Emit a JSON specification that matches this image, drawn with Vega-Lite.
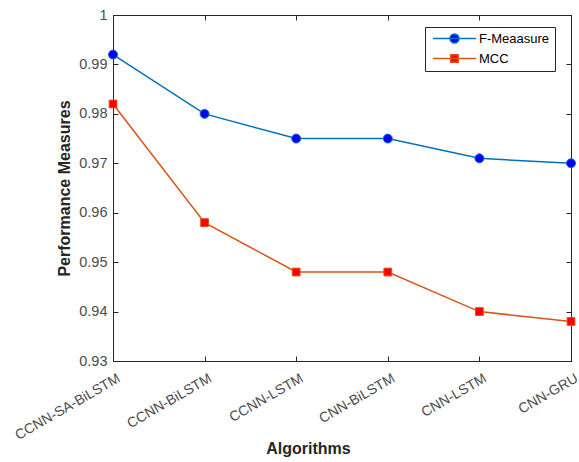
{
  "$schema": "https://vega.github.io/schema/vega-lite/v6.json",
  "width": 458,
  "height": 346,
  "autosize": {"type": "none"},
  "padding": {"left": 113, "top": 15, "right": 8, "bottom": 101},
  "background": "white",
  "config": {
    "font": "Liberation Sans",
    "view": {"stroke": "#262626", "strokeWidth": 1},
    "axis": {
      "grid": false,
      "domainColor": "#262626",
      "tickColor": "#262626",
      "labelColor": "#4d4d4d",
      "labelFontSize": 14,
      "titleFontSize": 16,
      "titleFontWeight": "bold",
      "titleColor": "#262626",
      "tickSize": -5
    }
  },
  "data": {
    "values": [
      {"algorithm": "CCNN-SA-BiLSTM", "measure": "F-Meaasure", "value": 0.992},
      {"algorithm": "CCNN-BiLSTM", "measure": "F-Meaasure", "value": 0.980},
      {"algorithm": "CCNN-LSTM", "measure": "F-Meaasure", "value": 0.975},
      {"algorithm": "CNN-BiLSTM", "measure": "F-Meaasure", "value": 0.975},
      {"algorithm": "CNN-LSTM", "measure": "F-Meaasure", "value": 0.971},
      {"algorithm": "CNN-GRU", "measure": "F-Meaasure", "value": 0.970},
      {"algorithm": "CCNN-SA-BiLSTM", "measure": "MCC", "value": 0.982},
      {"algorithm": "CCNN-BiLSTM", "measure": "MCC", "value": 0.958},
      {"algorithm": "CCNN-LSTM", "measure": "MCC", "value": 0.948},
      {"algorithm": "CNN-BiLSTM", "measure": "MCC", "value": 0.948},
      {"algorithm": "CNN-LSTM", "measure": "MCC", "value": 0.940},
      {"algorithm": "CNN-GRU", "measure": "MCC", "value": 0.938}
    ]
  },
  "layer": [
    {
      "mark": {"type": "line", "strokeWidth": 1.5},
      "encoding": {
        "x": {
          "field": "algorithm", "type": "ordinal", "sort": null,
          "scale": {"type": "point", "padding": 0},
          "axis": {"title": "Algorithms", "labelAngle": -30, "labelAlign": "right", "labelBaseline": "top", "labelFontSize": 14, "labelColor": "#4d4d4d", "labelOffset": 2, "labelPadding": 15, "titleFontSize": 16, "titleX": 195, "titleY": 79, "titleBaseline": "top"}
        },
        "y": {
          "field": "value", "type": "quantitative",
          "scale": {"domain": [0.93, 1], "zero": false, "nice": false},
          "axis": {
            "title": "Performance Measures",
            "values": [0.93, 0.94, 0.95, 0.96, 0.97, 0.98, 0.99, 1],
            "format": "~g",
            "labelFontSize": 14.5,
            "labelColor": "#4d4d4d",
            "labelPadding": 11,
            "titleFontSize": 16,
            "titleX": -41,
            "titleBaseline": "bottom"
          }
        },
        "color": {
          "field": "measure", "type": "nominal",
          "scale": {"domain": ["F-Meaasure", "MCC"], "range": ["#0072BD", "#D95319"]},
          "legend": {
            "title": null,
            "orient": "none",
            "legendX": 312,
            "legendY": 12,
            "fillColor": "white",
            "strokeColor": "#262626",
            "padding": 5,
            "labelFontSize": 13,
            "labelColor": "#000000",
            "symbolSize": 100,
            "symbolStrokeWidth": 1.5,
            "symbolOffset": 18,
            "labelOffset": 18,
            "rowPadding": 5,
            "encode": {
              "symbols": {
                "update": {
                  "shape": {"signal": "datum.value === 'MCC' ? 'M-4.3,0H4.3M-0.75,-0.75H0.75V0.75H-0.75Z' : 'M-4.3,0H-0.9A0.9,0.9 0 1,1 0.9,0H4.3M0.9,0A0.9,0.9 0 1,1 -0.9,0Z'"},
                  "fill": {"signal": "datum.value === 'MCC' ? '#FF0000' : '#0000FF'"}
                }
              }
            }
          }
        }
      }
    },
    {
      "transform": [{"filter": "datum.measure === 'F-Meaasure'"}],
      "mark": {"type": "point", "shape": "circle", "filled": true, "fill": "#0000FF", "stroke": "#0072BD", "strokeWidth": 1, "size": 80, "opacity": 1},
      "encoding": {
        "x": {"field": "algorithm", "type": "ordinal", "sort": null, "scale": {"type": "point", "padding": 0},
              "axis": {"orient": "top", "labels": false, "title": null}},
        "y": {"field": "value", "type": "quantitative", "scale": {"domain": [0.93, 1], "zero": false, "nice": false},
              "axis": {"orient": "right", "labels": false, "title": null, "values": [0.93, 0.94, 0.95, 0.96, 0.97, 0.98, 0.99, 1]}}
      }
    },
    {
      "transform": [{"filter": "datum.measure === 'MCC'"}],
      "mark": {"type": "point", "shape": "square", "filled": true, "fill": "#FF0000", "stroke": "#D95319", "strokeWidth": 1, "size": 60, "opacity": 1},
      "encoding": {
        "x": {"field": "algorithm", "type": "ordinal", "sort": null, "scale": {"type": "point", "padding": 0}, "axis": null},
        "y": {"field": "value", "type": "quantitative", "scale": {"domain": [0.93, 1], "zero": false, "nice": false}, "axis": null}
      }
    }
  ],
  "resolve": {"axis": {"x": "independent", "y": "independent"}}
}
